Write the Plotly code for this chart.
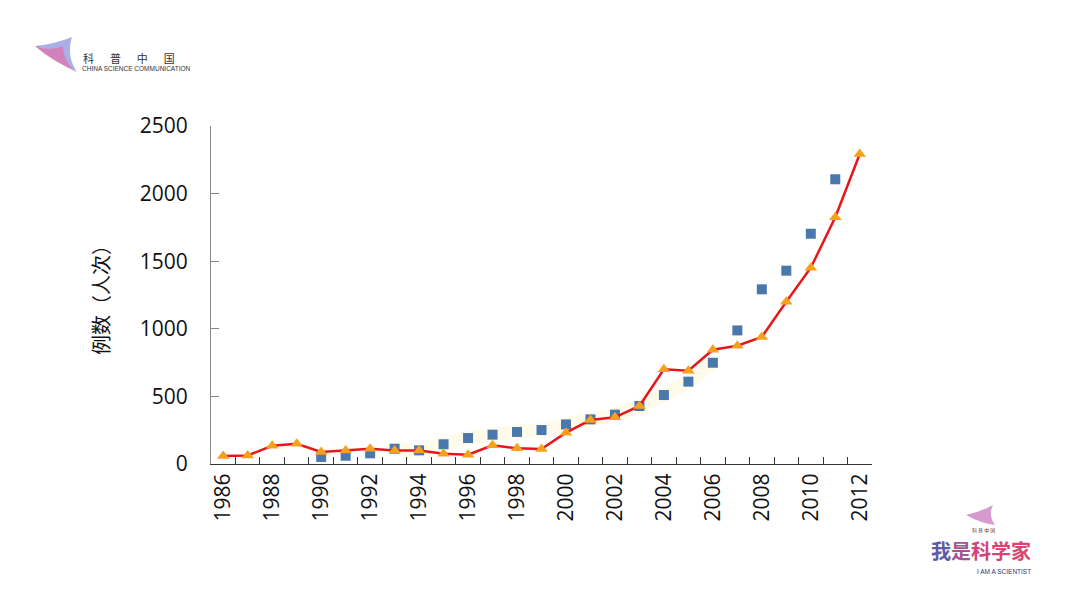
import plotly.graph_objects as go

years = [str(y) for y in range(1986, 2013)]
tick_labels = [str(y) if (y % 2 == 0) else "" for y in range(1986, 2013)]

# red line with orange triangles (1986-2012)
line_values = [60, 63, 135, 150, 89, 99, 113, 99, 99, 76, 69, 138, 116, 111,
               232, 325, 345, 429, 700, 690, 845, 875, 940, 1200, 1452, 1825, 2293]
# blue squares (1990-2011)
square_years = [str(y) for y in range(1990, 2012)]
square_values = [52, 61, 79, 113, 101, 146, 192, 217, 237, 251,
                 293, 330, 365, 429, 510, 609, 749, 988, 1292, 1430, 1703, 2106]

W, H = 1080, 593
OFF = 8  # page body margin
L, R, T, B = 211 - OFF, 872 - OFF, 126 - OFF, 464 - OFF


def px(x):
    return (x - OFF - L) / (R - L)


def py(y):
    return (B - (y - OFF)) / (B - T)


fig = go.Figure()

# faint glow behind squares
fig.add_trace(go.Scatter(
    x=square_years[3:17], y=square_values[3:17], mode="lines",
    line=dict(color="rgba(255,246,205,0.4)", width=14, shape="spline"),
    hoverinfo="skip", showlegend=False))

fig.add_trace(go.Scatter(
    x=square_years, y=square_values, mode="markers",
    marker=dict(symbol="square", size=10, color="#4a78ad"),
    showlegend=False))

fig.add_trace(go.Scatter(
    x=years, y=line_values, mode="lines+markers",
    line=dict(color="#e8161b", width=2.5),
    marker=dict(symbol="triangle-up", size=11, color="#f7a01c"),
    showlegend=False))

fig.update_layout(
    width=W, height=H,
    margin=dict(l=L, r=W - R, t=T, b=H - B),
    paper_bgcolor="white", plot_bgcolor="white",
    font=dict(family="Noto Sans CJK SC, Open Sans, sans-serif", color="#111"),
    xaxis=dict(type="category", categoryorder="array", categoryarray=years,
               tickmode="array", tickvals=years, ticktext=tick_labels,
               tickson="boundaries", ticks="inside", ticklen=7,
               tickcolor="#333", tickwidth=1,
               showline=True, linecolor="#333", linewidth=1.2,
               showgrid=False, zeroline=False, tickangle=-90,
               tickfont=dict(size=21, family="Open Sans, Noto Sans CJK SC", color="#111"),
               range=[-0.5, 26.5], fixedrange=True),
    yaxis=dict(range=[0, 2500], tickmode="array",
               tickvals=[0, 500, 1000, 1500, 2000, 2500],
               ticks="inside", ticklen=8, tickcolor="#888",
               showline=True, linecolor="#888", linewidth=1,
               showgrid=False, zeroline=False,
               tickfont=dict(size=21, family="Open Sans, Noto Sans CJK SC", color="#111"),
               ticklabelstandoff=18,
               title=dict(text="例数（人次）", standoff=24,
                          font=dict(size=20, family="Noto Sans CJK SC", color="#111"))),
)

shapes = []
# top-left wing logo
shapes.append(dict(type="path", xref="paper", yref="paper",
                   path=f"M {px(35)},{py(46)} Q {px(55)},{py(44)} {px(72)},{py(37)} "
                        f"Q {px(66)},{py(56)} {px(77)},{py(72)} Q {px(55)},{py(62)} {px(35)},{py(46)} Z",
                   fillcolor="rgba(140,150,220,0.75)", line=dict(width=0)))
shapes.append(dict(type="path", xref="paper", yref="paper",
                   path=f"M {px(35)},{py(46)} Q {px(50)},{py(52)} {px(63)},{py(46)} "
                        f"Q {px(63)},{py(60)} {px(74)},{py(70)} Q {px(50)},{py(60)} {px(35)},{py(46)} Z",
                   fillcolor="rgba(230,110,170,0.7)", line=dict(width=0)))
# bottom-right small wing
shapes.append(dict(type="path", xref="paper", yref="paper",
                   path=f"M {px(966)},{py(515)} Q {px(980)},{py(512)} {px(993)},{py(505)} "
                        f"Q {px(988)},{py(516)} {px(995)},{py(525)} Q {px(980)},{py(523)} {px(966)},{py(515)} Z",
                   fillcolor="rgba(200,120,190,0.75)", line=dict(width=0)))
fig.update_layout(shapes=shapes)

ann = []
ann.append(dict(text="科　  普　  中　  国", x=px(81), y=py(58), xref="paper", yref="paper",
                xanchor="left", yanchor="middle", showarrow=False,
                font=dict(size=11, color="#333", family="Noto Sans CJK SC")))
ann.append(dict(text="CHINA SCIENCE COMMUNICATION", x=px(80), y=py(68.5), xref="paper", yref="paper",
                xanchor="left", yanchor="middle", showarrow=False,
                font=dict(size=6.5, color="#333", family="Liberation Sans")))
ann.append(dict(text="科 普 中 国", x=px(983), y=py(530), xref="paper", yref="paper",
                xanchor="center", yanchor="middle", showarrow=False,
                font=dict(size=5, color="#444", family="Noto Sans CJK SC")))
ann.append(dict(text="<span style='color:#5e5aa6'>我</span><span style='color:#a4558f'>是</span>"
                     "<span style='color:#d0467a'>科</span><span style='color:#d84474'>学</span>"
                     "<span style='color:#da4672'>家</span>",
                x=px(981), y=py(550), xref="paper", yref="paper",
                xanchor="center", yanchor="middle", showarrow=False,
                font=dict(size=20, family="Noto Sans CJK SC", weight="bold")))
ann.append(dict(text="I AM A SCIENTIST", x=px(1033), y=py(571.5), xref="paper", yref="paper",
                xanchor="right", yanchor="middle", showarrow=False,
                font=dict(size=6.5, color="#2a3a7a", family="Liberation Sans")))
fig.update_layout(annotations=ann)

fig.write_html("out.html")
